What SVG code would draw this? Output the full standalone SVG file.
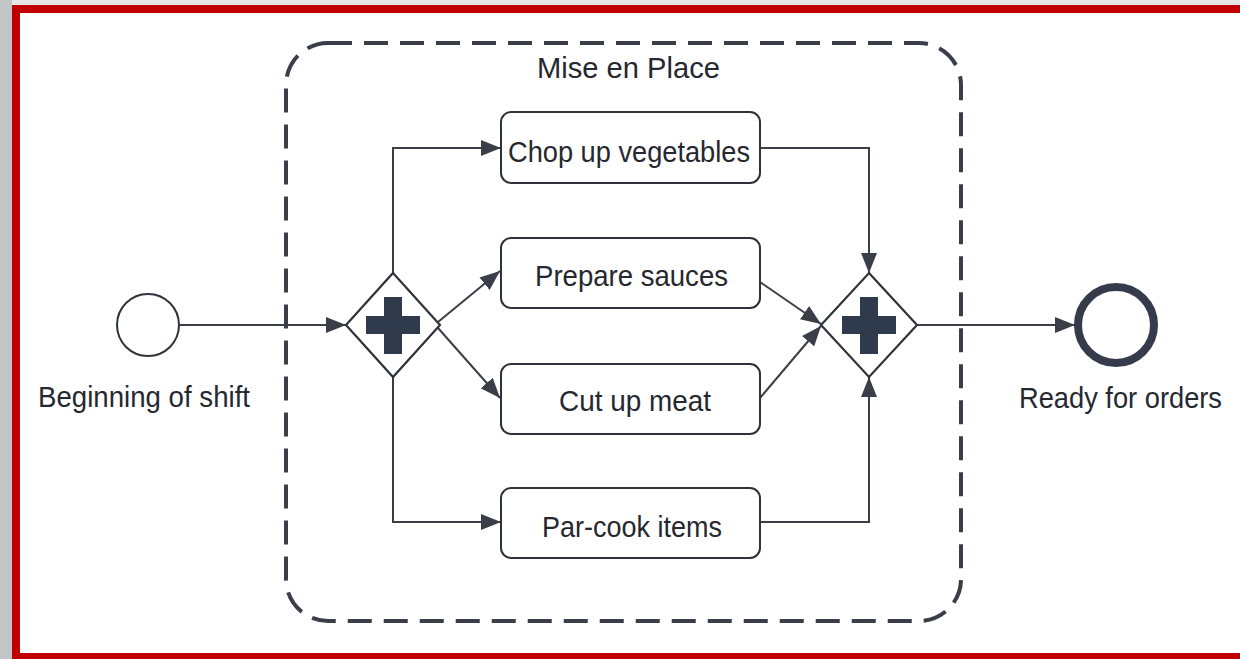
<svg xmlns="http://www.w3.org/2000/svg" width="1240" height="659" viewBox="0 0 1240 659">
  <style>
    .lbl { font-family: "Liberation Sans", Arial, sans-serif; font-size: 30px; fill: #262830; }
    .task { fill: #ffffff; stroke: #2e323a; stroke-width: 2; }
    .flow { fill: none; stroke: #3a3e48; stroke-width: 2; }
    .gw { fill: #ffffff; stroke: #2e323a; stroke-width: 2.2; }
    .plus { fill: #2f3a4c; }
  </style>
  <defs>
    <marker id="arrL" viewBox="0 0 20 16" refX="20" refY="8" markerWidth="20" markerHeight="16" markerUnits="userSpaceOnUse" orient="auto">
      <path d="M0,0 L20,8 L0,16 Z" fill="#3a3e48"/>
    </marker>
  </defs>

  <!-- background and frame -->
  <rect x="0" y="0" width="1240" height="659" fill="#e6e7e7"/>
  <rect x="0" y="0" width="12" height="659" fill="#c3c6c7"/>
  <rect x="16" y="9" width="1228" height="648" fill="#ffffff" stroke="#c00000" stroke-width="8"/>

  <!-- sub-process -->
  <g id="subprocess">
    <rect x="286" y="43" width="675" height="578" rx="42" ry="42" fill="none" stroke="#3a3e48" stroke-width="4" stroke-dasharray="24 12"/>
    <text class="lbl" x="537" y="78" textLength="183" lengthAdjust="spacingAndGlyphs">Mise en Place</text>
  </g>

  <!-- connectors -->
  <g id="connectors">
    <line class="flow" x1="180" y1="325" x2="346" y2="325" marker-end="url(#arrL)"/>
    <polyline class="flow" points="393,273 393,148 501,148" marker-end="url(#arrL)"/>
    <polyline class="flow" points="393,377 393,522 501,522" marker-end="url(#arrL)"/>
    <line class="flow" x1="438" y1="322" x2="500" y2="271" marker-end="url(#arrL)"/>
    <line class="flow" x1="438" y1="328" x2="500" y2="398" marker-end="url(#arrL)"/>
    <polyline class="flow" points="760,148 869,148 869,273" marker-end="url(#arrL)"/>
    <polyline class="flow" points="760,522 869,522 869,377" marker-end="url(#arrL)"/>
    <line class="flow" x1="760" y1="282" x2="821" y2="324" marker-end="url(#arrL)"/>
    <line class="flow" x1="760" y1="398" x2="821" y2="326" marker-end="url(#arrL)"/>
    <line class="flow" x1="917" y1="325" x2="1075" y2="325" marker-end="url(#arrL)"/>
  </g>

  <g id="start">
    <circle cx="148" cy="325" r="31" fill="#ffffff" stroke="#2e323a" stroke-width="2"/>
    <text class="lbl" x="38" y="407" textLength="212" lengthAdjust="spacingAndGlyphs">Beginning of shift</text>
  </g>

  <g id="gateway1">
    <polygon class="gw" points="393,273 440,325 393,377 346,325"/>
    <rect class="plus" x="366" y="316" width="54" height="18"/>
    <rect class="plus" x="384" y="297" width="18" height="57"/>
  </g>

  <g id="gateway2">
    <polygon class="gw" points="869,273 917,325 869,377 821,325"/>
    <rect class="plus" x="842" y="316" width="54" height="18"/>
    <rect class="plus" x="860" y="297" width="18" height="57"/>
  </g>

  <g id="task-chop">
    <rect class="task" x="501" y="112" width="259" height="71" rx="10" ry="10"/>
    <text class="lbl" x="508" y="162" textLength="242" lengthAdjust="spacingAndGlyphs">Chop up vegetables</text>
  </g>
  <g id="task-sauces">
    <rect class="task" x="501" y="238" width="259" height="70" rx="10" ry="10"/>
    <text class="lbl" x="535" y="286" textLength="193" lengthAdjust="spacingAndGlyphs">Prepare sauces</text>
  </g>
  <g id="task-meat">
    <rect class="task" x="501" y="364" width="259" height="70" rx="10" ry="10"/>
    <text class="lbl" x="559" y="411" textLength="152" lengthAdjust="spacingAndGlyphs">Cut up meat</text>
  </g>
  <g id="task-parcook">
    <rect class="task" x="501" y="488" width="259" height="70" rx="10" ry="10"/>
    <text class="lbl" x="542" y="537" textLength="180" lengthAdjust="spacingAndGlyphs">Par-cook items</text>
  </g>

  <g id="end">
    <circle cx="1116" cy="325" r="38" fill="#ffffff" stroke="#353b4a" stroke-width="8"/>
    <text class="lbl" x="1019" y="408" textLength="203" lengthAdjust="spacingAndGlyphs">Ready for orders</text>
  </g>
</svg>
